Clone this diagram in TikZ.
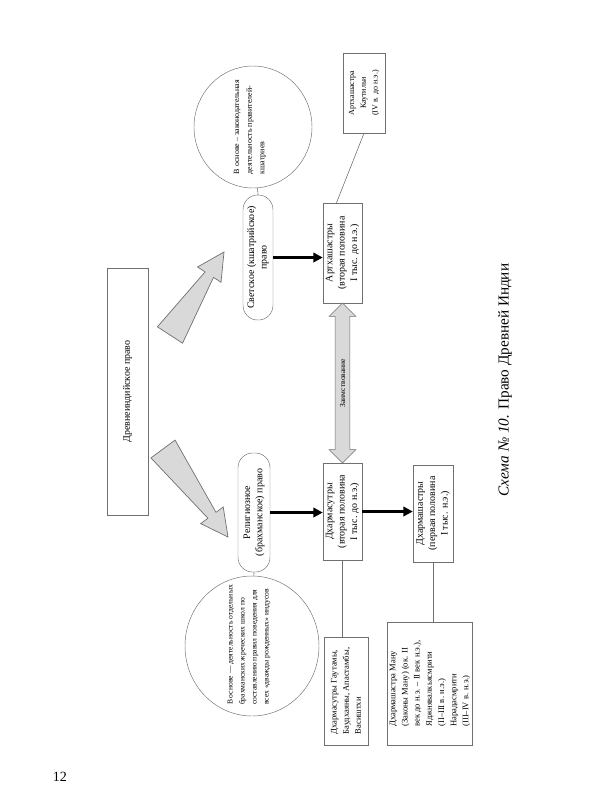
\documentclass[tikz,border=0pt]{standalone}
\usepackage{fontspec}
\setmainfont{Liberation Serif}
\usetikzlibrary{arrows.meta, positioning, shapes.geometric, shapes.arrows, calc}
\definecolor{linecol}{HTML}{707070}
\definecolor{arrowcol}{HTML}{D9D9D9}
\tikzset{
  box/.style={rectangle, draw=linecol, rotate=90, align=center, inner sep=2pt, font=\fontsize{8.5}{10.5}\selectfont},
  roundbox/.style={box, rounded corners=0.44cm},
  notebox/.style={box, align=left, font=\fontsize{7.3}{10.4}\selectfont},
  circnode/.style={ellipse, draw=linecol, inner sep=0pt},
  circtext/.style={rotate=90, align=left, inner sep=0pt, font=\fontsize{6.8}{10.8}\selectfont},
  thinline/.style={draw=linecol, line width=0.5pt},
  mainarrow/.style={-{Triangle[length=8pt, width=8pt]}, line width=2.2pt},
  fatarrow/.style={draw=linecol, fill=arrowcol, line width=0.6pt},
  dblarrow/.style={double arrow, draw=linecol, fill=arrowcol, rotate=90, double arrow head extend=0.18cm,
    minimum height=4.8cm, inner xsep=0pt, inner ysep=4pt, text depth=0pt, font=\fontsize{6.5}{7}\selectfont},
}
% tapered grey arrow: #1 tail, #2 tip
\newcommand{\fatarrow}[2]{%
  \coordinate (fab) at ($(#2)!0.81cm!(#1)$);
  \path[fatarrow] ($(#1)!0.45cm!90:(#2)$) -- ($(fab)!0.15cm!-90:(#1)$)
    -- ($(fab)!0.42cm!-90:(#1)$) -- (#2) -- ($(fab)!0.42cm!90:(#1)$)
    -- ($(fab)!0.15cm!90:(#1)$) -- ($(#1)!0.45cm!-90:(#2)$) -- cycle;
}

\begin{document}
\begin{tikzpicture}[x=0.03cm, y=-0.03cm]
  \useasboundingbox (0,0) rectangle (600,800);
  % root
  \node[box, minimum width=7.41cm, minimum height=1.23cm] (root) at (127.5,391.5) {Древнеиндийское право};
  \coordinate (uptail) at (170,335);
  \coordinate (uptip) at (224,252);
  \coordinate (lowtail) at (163,449);
  \coordinate (lowtip) at (228,537);
  \fatarrow{uptail}{uptip}
  \fatarrow{lowtail}{lowtip}
  % two branches
  \node[roundbox, minimum width=3.75cm, minimum height=0.9cm] (svet) at (258,257.5) {Светское (кшатрийское)\\право};
  \node[roundbox, minimum width=3.57cm, minimum height=0.96cm] (rel) at (254,512.5) {Религиозное\\(брахманское) право};
  % circles
  \node[circnode, minimum width=3.54cm, minimum height=3.66cm] (svetc) at (253,127) {};
  \node[circtext] (svett) at (250,127) {В основе – законодательная\\деятельность правителей-\\кшатриев};
  \node[circnode, minimum width=4.02cm, minimum height=4.2cm] (relc) at (252,646) {};
  \node[circtext, font=\fontsize{6.5}{10.2}\selectfont] (relt) at (249,645) {В основе — деятельность отдельных\\брахманских жреческих школ по\\составлению правил поведения для\\всех «дважды рожденных» индусов};
  \draw[thinline] (svet.east) -- (svetc);
  \draw[thinline] (rel.west) -- (relc);
  % sources
  \node[box, minimum width=3.0cm, minimum height=1.17cm] (arth) at (342.5,253) {Артхашастры\\(вторая половина\\I тыс. до н.э.)};
  \node[box, minimum width=2.4cm, minimum height=1.26cm, font=\fontsize{6.8}{10}\selectfont] (kaut) at (364,93) {Артхашастра\\Каутильи\\(IV в. до н.э.)};
  \node[box, minimum width=2.91cm, minimum height=1.17cm] (dsut) at (342.5,511.5) {Дхармасутры\\(вторая половина\\I тыс. до н.э.)};
  \node[box, minimum width=2.91cm, minimum height=1.2cm] (dshas) at (433,513.5) {Дхармашастры\\(первая половина\\I тыс. н.э.)};
  \node[notebox, minimum width=3.24cm, minimum height=1.32cm] (gaut) at (346,691) {Дхармасутры Гаутамы,\\Баудхаяны, Апастамбы,\\Васиштхи};
  \node[notebox, minimum width=3.69cm, minimum height=2.4cm] (manu) at (430,683.5) {Дхармашастра Ману\\(Законы Ману) (ок. II\\век до н.э. – II век н.э.),\\Яджнявалкьясмрити\\(II–III в. н.э.)\\Нарадасмрити\\(III–IV в. н.э.)};
  \draw[mainarrow] (svet.south) -- (svet.south -| arth.north);
  \draw[mainarrow] (rel.south) -- (rel.south -| dsut.north);
  \draw[mainarrow] (dsut.south) -- (dsut.south -| dshas.north);
  \draw[thinline] (kaut.west) -- ($(arth.east)+(-6,0)$);
  \draw[thinline] (dsut.west) -- (dsut.west |- gaut.east);
  \draw[thinline] (dshas.west) -- (dshas.west |- manu.east);
  \node[dblarrow] (borrow) at ($(arth.west)!0.5!(dsut.east)$) {Заимствование};
  % caption and page number
  \node[rotate=90, font=\fontsize{13}{15}\selectfont] (caption) at (505,380) {\textit{Схема №~10.} Право Древней Индии};
  \node[font=\fontsize{12}{14}\selectfont] (pagenum) at (60,777) {12};
\end{tikzpicture}
\end{document}
